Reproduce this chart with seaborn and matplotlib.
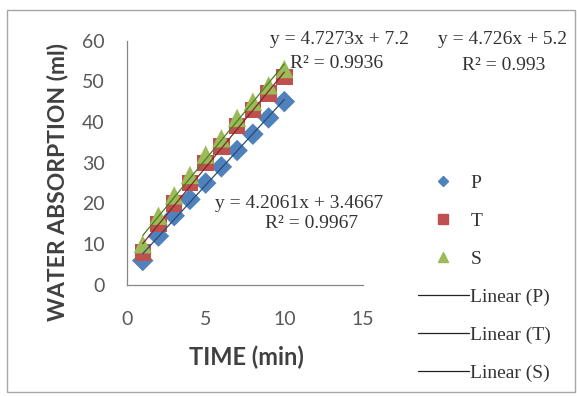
import matplotlib
matplotlib.use("Agg")
import matplotlib.pyplot as plt
from matplotlib.lines import Line2D
from matplotlib.patches import Rectangle
import seaborn as sns
import pandas as pd

# ---- data ----
time_min = [1, 2, 3, 4, 5, 6, 7, 8, 9, 10]
water_P = [6, 12, 17, 21, 25, 29, 33, 37, 41, 45]
water_T = [8, 15, 20, 25, 30, 34, 39, 43, 47, 51]
water_S = [10, 17, 22, 27, 32, 36, 41, 45, 49, 53]
series_names = ["P", "T", "S"]
x_ticks = [0, 5, 10, 15]
y_ticks = [0, 10, 20, 30, 40, 50, 60]
eq_lines = {
    "P": ("y = 4.2061x + 3.4667", "R² = 0.9967"),
    "T": ("y = 4.726x + 5.2", "R² = 0.993"),
    "S": ("y = 4.7273x + 7.2", "R² = 0.9936"),
}
legend_labels = ["P", "T", "S", "Linear (P)", "Linear (T)", "Linear (S)"]

df = pd.DataFrame({
    "time": time_min * 3,
    "water": water_P + water_T + water_S,
    "series": ["P"] * 10 + ["T"] * 10 + ["S"] * 10,
})

sns.set_style("white")
plt.rcParams["font.family"] = ["Lato", "DejaVu Sans"]

colors = {"P": "#4F81BD", "T": "#C0504D", "S": "#9BBB59"}
trend_colors = {"P": "#2B4A70", "T": "#7A2A28", "S": "#4E7A22"}
markers = {"P": "D", "T": "s", "S": "^"}
sizes = {"P": 120, "T": 140, "S": 175}

W, H = 577, 396
fig = plt.figure(figsize=(W / 100, H / 100), dpi=100)
ax = fig.add_axes([127 / W, 1 - 285 / H, (363 - 127) / W, (285 - 40.5) / H])

for name in series_names:
    sub = df[df["series"] == name]
    sns.scatterplot(data=sub, x="time", y="water", ax=ax, marker=markers[name],
                    color=colors[name], s=sizes[name], edgecolor="none",
                    legend=False, zorder=3)
for name in series_names:
    sub = df[df["series"] == name]
    sns.regplot(data=sub, x="time", y="water", ax=ax, scatter=False, ci=None,
                truncate=True, line_kws={"color": trend_colors[name], "lw": 0.9, "zorder": 4})

ax.set_xlim(0, 15)
ax.set_ylim(0, 60)
ax.set_xticks(x_ticks)
ax.set_yticks(y_ticks)
for s in ["top", "right"]:
    ax.spines[s].set_visible(False)
for s in ["left", "bottom"]:
    ax.spines[s].set_color("#868686")
    ax.spines[s].set_linewidth(0.9)
ax.tick_params(axis="both", direction="out", length=5, width=0.8, color="#868686",
               labelsize=14, labelcolor="#595959")
ax.tick_params(axis="y", pad=11)
ax.tick_params(axis="x", pad=14)
ax.set_xlabel("")
ax.set_ylabel("")
fig.text(246 / W, 1 - 357 / H, "TIME (min)", ha="center", va="center",
         fontsize=17, fontweight="bold", color="#404040")
fig.text(58 / W, 1 - 182 / H, "WATER ABSORPTION (ml)", ha="center", va="center",
         rotation=90, fontsize=16.5, fontweight="bold", color="#404040")

serif = ["Liberation Serif", "DejaVu Serif"]
txt_kw = dict(ha="center", va="center", family=serif, fontsize=14, color="#333333")
fig.text(339 / W, 1 - 39 / H, eq_lines["S"][0], **txt_kw)
fig.text(337 / W, 1 - 63 / H, eq_lines["S"][1], **txt_kw)
fig.text(503 / W, 1 - 40 / H, eq_lines["T"][0], **txt_kw)
fig.text(504 / W, 1 - 65 / H, eq_lines["T"][1], **txt_kw)
fig.text(299 / W, 1 - 203 / H, eq_lines["P"][0], **txt_kw)
fig.text(312 / W, 1 - 223 / H, eq_lines["P"][1], **txt_kw)

handles = [
    Line2D([], [], marker="D", color=colors["P"], linestyle="none", markersize=5),
    Line2D([], [], marker="s", color=colors["T"], linestyle="none", markersize=6.5),
    Line2D([], [], marker="^", color=colors["S"], linestyle="none", markersize=7),
    Line2D([], [], color="#222222", lw=0.9),
    Line2D([], [], color="#222222", lw=0.9),
    Line2D([], [], color="#222222", lw=0.9),
]
fig.legend(handles, legend_labels, loc="upper left", bbox_to_anchor=(418 / W, 1 - 174 / H),
           frameon=False, prop={"family": "Liberation Serif", "size": 14},
           labelcolor="#333333", handlelength=2.6, handletextpad=0.1,
           labelspacing=1.05, borderpad=0, borderaxespad=0)

fig.patches.append(Rectangle((7 / W, 4 / H), 568 / W, 382 / H, transform=fig.transFigure,
                             fill=False, edgecolor="#A6A6A6", lw=1.0))

fig.savefig("out.png", dpi=100)
